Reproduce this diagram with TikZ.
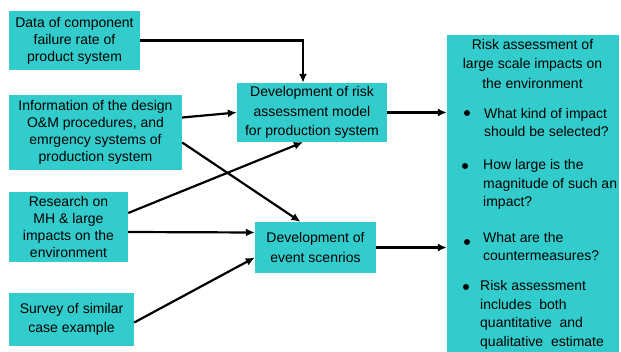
\documentclass[tikz,border=0pt]{standalone}
\usepackage{fontspec}
\setmainfont{Liberation Sans}
\usetikzlibrary{arrows.meta, calc}
\definecolor{boxteal}{HTML}{33CCCC}
\begin{document}
\begin{tikzpicture}[
  x = 1pt,
  y = -1pt,
  box/.style = {
    shape = rectangle,
    fill = boxteal,
    align = center,
    inner sep = 0pt,
    font = \fontsize{14}{17}\selectfont,
  },
  loose/.style = {
    font = \fontsize{14}{19.5}\selectfont
  },
  dot/.style = {
    shape = circle,
    fill = black,
    minimum size = 6pt,
    inner sep = 0pt,
    outer sep = 0pt,
  },
  point/.style = {
    anchor = west,
    align = left,
    inner sep = 0pt,
    font = \fontsize{14}{18.5}\selectfont,
  },
  arrow/.style = {
    line width = 2.2pt,
    -{Latex[length = 9pt, width = 8pt]}
  }
]
  \useasboundingbox (0, 0) rectangle (621, 352);

  \draw node[box, minimum width = 131pt, minimum height = 59pt] (data) at (74.5, 40.5)
    {Data of component\\failure rate of\\product system};
  \draw node[box, minimum width = 173pt, minimum height = 75pt] (design) at (95.5, 132.5)
    {Information of the design\\O\&M procedures, and\\emrgency systems of\\production system};
  \draw node[box, minimum width = 119pt, minimum height = 70pt] (research) at (68.5, 227)
    {Research on\\MH \& large\\impacts on the\\environment};
  \draw node[box, loose, minimum width = 125pt, minimum height = 53pt] (survey) at (71.5, 319.5)
    {Survey of similar\\case example};

  \draw node[box, loose, minimum width = 150pt, minimum height = 59pt] (model) at (312, 112.5)
    {Development of risk\\assessment model\\for production system};
  \draw node[box, loose, minimum width = 121pt, minimum height = 51pt] (scenario) at (315.5, 247.5)
    {Development of\\event scenrios};

  \draw node[box, minimum width = 172pt, minimum height = 317pt] (risk) at (533, 193.5) {};
  \draw node[box, loose] (title) at (532.5, 64)
    {Risk assessment of\\large scale impacts on\\the environment};

  \draw node[dot] (b1) at (467, 113) {};
  \draw node[dot] (b2) at (465, 166) {};
  \draw node[dot] (b3) at (467, 242) {};
  \draw node[dot] (b4) at (466, 287) {};
  \draw node[point] (p1) at (484, 122.5) {What kind of impact\\should be selected?};
  \draw node[point] (p2) at (483, 184.5) {How large is the\\magnitude of such an\\impact?};
  \draw node[point] (p3) at (483, 246.5) {What are the\\countermeasures?};
  \draw node[point] (p4) at (480, 315) {Risk assessment\\includes\ \ both\\quantitative\ \ and\\qualitative\ \ estimate};

  \draw[arrow] (data.east) -| ($(model.north) + (-9, 0)$);
  \draw[arrow] ($(design.east) + (0, -15)$) -- (model.west);
  \draw[arrow] ($(design.east) + (0, 10)$) -- ($(scenario.north) + (-15, 0)$);
  \draw[arrow] ($(research.east) + (0, -14)$) -- ($(model.south) + (-9, 0)$);
  \draw[arrow] ($(research.east) + (0, 5)$) -- ($(scenario.west) + (0, -15)$);
  \draw[arrow] ($(survey.east) + (0, 3)$) -- ($(scenario.west) + (0, 10)$);
  \draw[arrow] (model.east) -- (model.east -| risk.west);
  \draw[arrow] (scenario.east) -- (scenario.east -| risk.west);
\end{tikzpicture}
\end{document}
